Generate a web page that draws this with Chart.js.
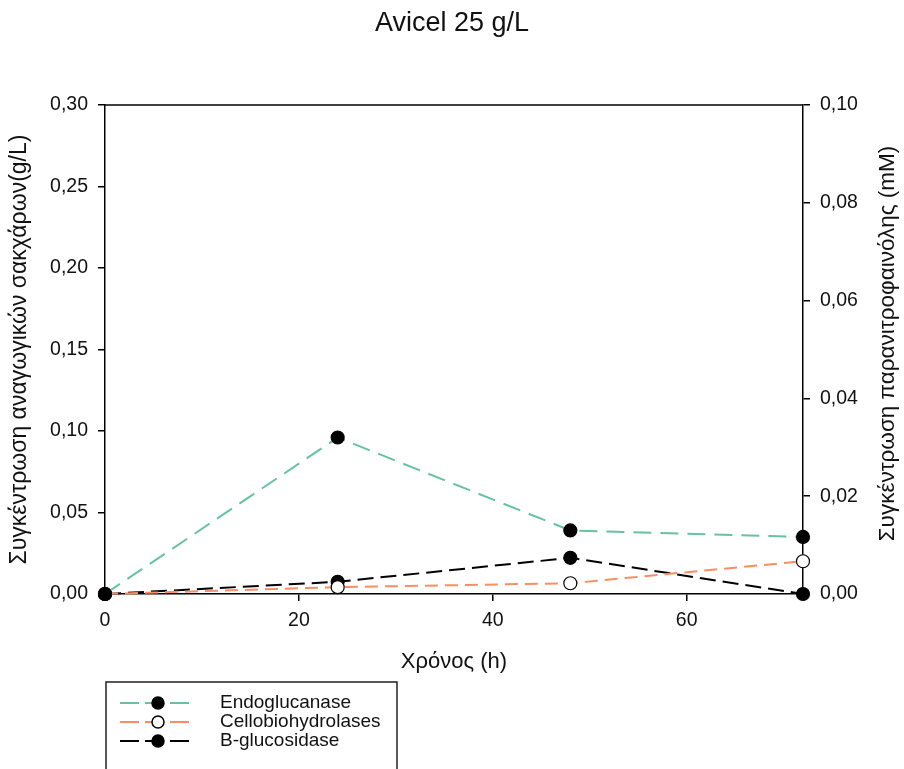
<!DOCTYPE html>
<html>
<head>
<meta charset="utf-8">
<script src="https://cdn.jsdelivr.net/npm/chart.js@4.4.0/dist/chart.umd.min.js"></script>
<style>
  html, body { margin: 0; padding: 0; background: #fff; }
  #wrap { width: 904px; height: 769px; }
</style>
</head>
<body>
<div id="wrap"><canvas id="myChart" width="904" height="769"></canvas></div>
<script>
// datos
const horas = [0, 24, 48, 72]
const endoglucanase = [0, 0.096, 0.039, 0.035]          // eje izquierdo (g/L)
const cellobiohydrolases = [0, 0.0014, 0.0022, 0.0067]  // eje derecho (mM)
const bGlucosidase = [0, 0.0025, 0.0074, 0]             // eje derecho (mM)
const nombres = ['Endoglucanase', 'Cellobiohydrolases', 'B-glucosidase']

const verde = '#66c2a5'
const naranja = '#fc8d62'
const negro = '#000000'
const fuente = 'Liberation Sans, Arial, sans-serif'

const coma = (v) => v.toFixed(2).replace('.', ',')
const puntos = (arr) => horas.map((h, i) => ({ x: h, y: arr[i] }))

// marco superior, titulo eje derecho y leyenda
const extras = {
    id: 'extras',
    afterDraw(chart) {
        const ctx = chart.ctx
        const a = chart.chartArea
        ctx.save()
        ctx.strokeStyle = negro
        ctx.lineWidth = 1.5
        ctx.beginPath()
        ctx.moveTo(a.left, a.top)
        ctx.lineTo(a.right, a.top)
        ctx.stroke()

        // titulo eje derecho (se lee de abajo hacia arriba)
        ctx.translate(888, (a.top + a.bottom) / 2 - 6)
        ctx.rotate(-Math.PI / 2)
        ctx.fillStyle = '#111'
        ctx.font = '22.5px ' + fuente
        ctx.textAlign = 'center'
        ctx.textBaseline = 'middle'
        ctx.fillText('Συγκέντρωση παρανιτροφαινόλης (mM)', 0, 0)
        ctx.restore()

        // leyenda
        ctx.save()
        ctx.strokeStyle = '#222'
        ctx.lineWidth = 1.5
        ctx.strokeRect(106, 682, 291, 110)
        const filas = [703, 722, 741]
        chart.data.datasets.forEach((ds, i) => {
            const y = filas[i]
            ctx.strokeStyle = ds.borderColor
            ctx.lineWidth = 2
            ctx.setLineDash([19, 6])
            ctx.beginPath()
            ctx.moveTo(120, y)
            ctx.lineTo(193, y)
            ctx.stroke()
            ctx.setLineDash([])
            ctx.beginPath()
            ctx.arc(158, y, 6, 0, Math.PI * 2)
            ctx.fillStyle = ds.pointBackgroundColor
            ctx.fill()
            ctx.strokeStyle = negro
            ctx.lineWidth = 1.5
            ctx.stroke()
            ctx.fillStyle = '#111'
            ctx.font = '19px ' + fuente
            ctx.textAlign = 'left'
            ctx.textBaseline = 'middle'
            ctx.fillText(nombres[i], 220, y)
        })
        ctx.restore()
    }
}

const datasets = [
    {
        label: nombres[0],
        data: puntos(endoglucanase),
        yAxisID: 'y',
        borderColor: verde,
        borderDash: [18, 9],
        pointBackgroundColor: negro,
    },
    {
        label: nombres[1],
        data: puntos(cellobiohydrolases),
        yAxisID: 'y2',
        borderColor: naranja,
        borderDash: [13, 7],
        pointBackgroundColor: '#ffffff',
    },
    {
        label: nombres[2],
        data: puntos(bGlucosidase),
        yAxisID: 'y2',
        borderColor: negro,
        borderDash: [16, 7],
        pointBackgroundColor: negro,
    },
].map((d) => ({
    ...d,
    borderWidth: 2,
    pointRadius: 6.5,
    pointBorderColor: negro,
    pointBorderWidth: 1.2,
    tension: 0,
    clip: false,
}))

const ejeComun = {
    grid: { display: true, drawOnChartArea: false, drawTicks: true, tickLength: 7, color: negro, lineWidth: 1.5 },
    border: { display: true, color: negro, width: 1.5 },
}

const config = {
    type: 'line',
    data: { datasets },
    options: {
        responsive: false,
        animation: false,
        layout: { padding: { left: 0, right: 0, top: 0, bottom: 91 } },
        plugins: {
            legend: { display: false },
            tooltip: { enabled: false },
            title: {
                display: true,
                text: 'Avicel 25 g/L',
                color: '#111',
                font: { family: fuente, size: 27, weight: 'normal' },
                padding: { top: 7, bottom: 65.6 },
            },
        },
        scales: {
            x: {
                type: 'linear',
                min: 0,
                max: 72,
                ...ejeComun,
                ticks: { stepSize: 20, color: '#111', padding: 8, font: { family: fuente, size: 19.5 } },
                afterBuildTicks: (s) => { s.ticks = s.ticks.filter((t) => t.value % 20 === 0) },
                afterFit: (s) => { s.height = 84 },
                title: {
                    display: true,
                    text: 'Χρόνος (h)',
                    color: '#111',
                    font: { family: fuente, size: 22 },
                    padding: { top: 0, bottom: 3 },
                },
            },
            y: {
                position: 'left',
                min: 0,
                max: 0.3,
                ...ejeComun,
                ticks: { stepSize: 0.05, color: '#111', padding: 10, font: { family: fuente, size: 19.5 }, callback: (v) => coma(v) },
                afterFit: (s) => { s.width = 105 },
                title: {
                    display: true,
                    text: 'Συγκέντρωση αναγωγικών σακχάρων(g/L)',
                    color: '#111',
                    font: { family: fuente, size: 23 },
                    padding: { top: 6, bottom: 0 },
                },
            },
            y2: {
                position: 'right',
                min: 0,
                max: 0.1,
                ...ejeComun,
                ticks: { stepSize: 0.02, color: '#111', padding: 10, font: { family: fuente, size: 19.5 }, callback: (v) => coma(v) },
                afterFit: (s) => { s.width = 101 },
            },
        },
    },
    plugins: [extras],
}

const ctx = document.getElementById('myChart').getContext('2d')
const grafico = new Chart(ctx, config)
</script>
</body>
</html>
